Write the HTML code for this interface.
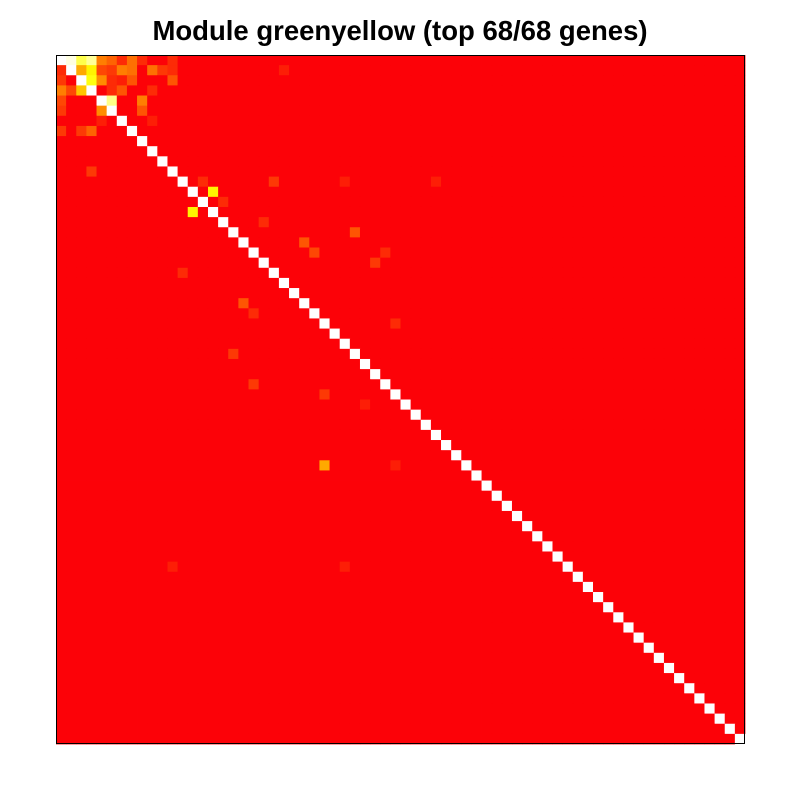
<!DOCTYPE html>
<html><head><meta charset="utf-8"><style>
body{margin:0;background:#fff;}
svg{display:block;}
</style></head><body>
<svg id="chart" width="800" height="800" xmlns="http://www.w3.org/2000/svg">
<rect width="800" height="800" fill="#fff"/>
<text x="400" y="40" text-anchor="middle" font-family="Liberation Sans, sans-serif" font-weight="bold" font-size="27.5" fill="#000">Module greenyellow (top 68/68 genes)</text>
<g id="cells"></g>
<rect x="56.5" y="55.5" width="688" height="688" fill="none" stroke="#000" stroke-width="1"/>
</svg>
<script>
const nGenes = 68;
// nonzero off-diagonal cells: [row, col, value]
const highlightRows = [0,0,0,0,0,0,0,0,0, 1,1,1,1,1,1,1,1,1,1,1, 2,2,2,2,2,2,2, 3,3,3,3,3,3, 4,4,4, 5,5,5, 6,6, 7,7,7, 12,13,12,12,12,11,15,14,16,17,18,19,19,20,21,24,25,26,29,32,33,34,40,40,50,50];
const highlightCols = [1,2,3,4,5,6,7,8,11, 0,2,3,4,5,6,7,9,10,11,22, 0,3,4,5,6,7,11, 0,1,2,5,6,9, 0,5,8, 0,4,8, 4,9, 0,2,3, 14,15,21,28,37,3,13,16,20,29,24,25,32,31,12,18,19,33,17,19,26,30,26,33,11,28];
const highlightVals = [1.0,0.8,0.9,0.45,0.35,0.15,0.4,0.15,0.15, 0.15,0.55,0.68,0.25,0.2,0.45,0.4,0.4,0.2,0.15,0.1, 0.2,0.72,0.5,0.15,0.1,0.3,0.3, 0.45,0.25,0.6,0.15,0.3,0.15, 0.25,0.88,0.45, 0.2,0.5,0.3, 0.1,0.1, 0.2,0.2,0.35, 0.15,0.68,0.2,0.1,0.1,0.2,0.68,0.15,0.15,0.3,0.3,0.25,0.15,0.2,0.15,0.3,0.15,0.15,0.2,0.2,0.2,0.1,0.55,0.1,0.1,0.1];

const x0 = 56, y0 = 55, size = 689;
const cell = size / nGenes;
function xScale(c){ return x0 + c * cell; }
function yScale(r){ return y0 + r * cell; }
function color(v){
  const stops = [[0,[252,2,8]],[0.5,[255,140,0]],[0.7,[255,255,0]],[1,[255,255,225]]];
  for (let i=1;i<stops.length;i++){
    if (v <= stops[i][0]){
      const a = stops[i-1], b = stops[i];
      const t = (v - a[0])/(b[0]-a[0]);
      const c = a[1].map((k,j)=>Math.round(k+(b[1][j]-k)*t));
      return `rgb(${c[0]},${c[1]},${c[2]})`;
    }
  }
  return 'rgb(255,255,225)';
}
const matrix = [];
for (let r=0;r<nGenes;r++){ matrix.push(new Array(nGenes).fill(0)); }
for (let k=0;k<highlightRows.length;k++){ matrix[highlightRows[k]][highlightCols[k]] = highlightVals[k]; }
const g = document.getElementById('cells');
const NS = 'http://www.w3.org/2000/svg';
for (let r=0;r<nGenes;r++){
  for (let c=0;c<nGenes;c++){
    const el = document.createElementNS(NS,'rect');
    el.setAttribute('x', xScale(c).toFixed(2));
    el.setAttribute('y', yScale(r).toFixed(2));
    el.setAttribute('width', (cell+0.4).toFixed(2));
    el.setAttribute('height', (cell+0.4).toFixed(2));
    el.setAttribute('fill', r===c ? '#ffffff' : color(matrix[r][c]));
    
    
    g.appendChild(el);
  }
}
</script>
</body></html>
